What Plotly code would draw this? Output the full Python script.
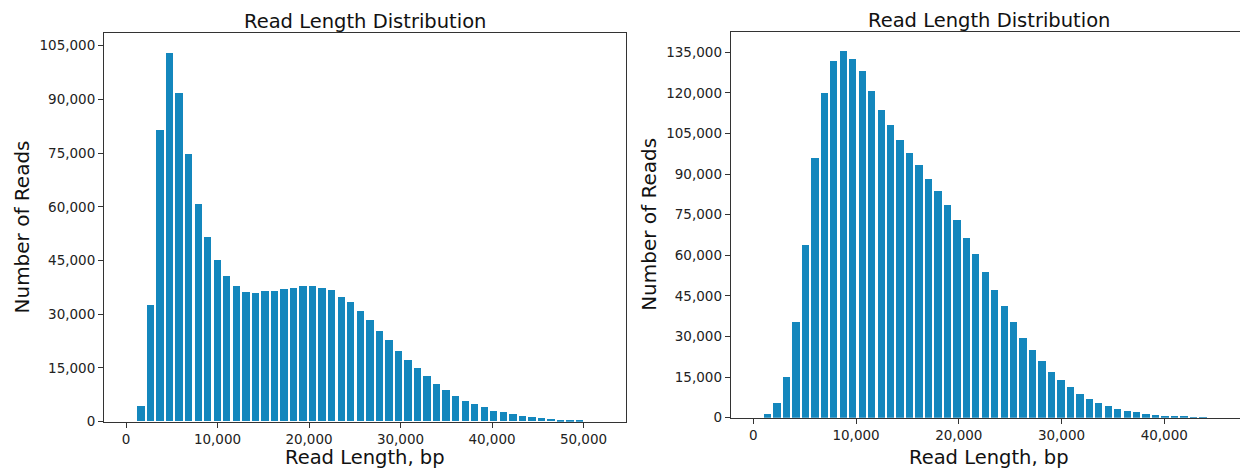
import plotly.graph_objects as go

# ---------------- data ----------------
title_text = "Read Length Distribution"
x_label = "Read Length, bp"
y_label = "Number of Reads"

# left histogram (sample A)
left_first_bin_center = 1640
left_bin_width = 1042
left_counts = [4200, 32600, 81500, 103000, 91700, 74800, 60800, 51400, 45200, 40700,
               37900, 36000, 35800, 36300, 36300, 37100, 37200, 37700, 37900, 37200,
               36600, 34700, 33400, 30700, 28200, 25300, 22800, 19800, 17200, 14900,
               12800, 10500, 8700, 7200, 5800, 4900, 4000, 3000, 2500, 2100,
               1600, 1200, 850, 650, 450, 300, 200]

# right histogram (sample B)
right_first_bin_center = 1363
right_bin_width = 921
right_counts = [1370, 5300, 15100, 35500, 63900, 95800, 119800, 131900, 135600, 132500,
                128100, 120800, 113700, 108000, 102600, 97900, 93200, 88300, 83900, 78700,
                72900, 66400, 60500, 53700, 47200, 41300, 35200, 29600, 25000, 20900,
                17000, 13900, 11200, 8800, 6800, 5300, 4200, 3200, 2500, 2000,
                1500, 1100, 800, 500, 350, 200, 100]

left_x = [left_first_bin_center + i * left_bin_width for i in range(len(left_counts))]
right_x = [right_first_bin_center + i * right_bin_width for i in range(len(right_counts))]

BAR = "#1487BD"
OFF = 8  # browser body margin
W, H = 1248 - OFF, 471 - OFF
FONT = "DejaVu Sans"

fig = go.Figure()
fig.add_trace(go.Bar(x=left_x, y=left_counts, width=0.77 * left_bin_width,
                     marker=dict(color=BAR, line=dict(width=0)),
                     xaxis="x", yaxis="y", showlegend=False))
fig.add_trace(go.Bar(x=right_x, y=right_counts, width=0.77 * right_bin_width,
                     marker=dict(color=BAR, line=dict(width=0)),
                     xaxis="x2", yaxis="y2", showlegend=False))

def px_x(p):
    return (p - OFF) / W

def px_y(p):
    return (H - (p - OFF)) / H

axis_common = dict(showgrid=False, zeroline=False, showline=True, mirror=True,
                   linecolor="#333", linewidth=1, ticks="outside", ticklen=5,
                   tickcolor="#333", tickwidth=1, tickformat=",d", automargin=False,
                   tickfont=dict(family=FONT, size=13.5, color="#222"))

L = (104, 626, 33.3, 421.7)
R = (730.7, 1247.5, 32, 417.7)

fig.update_layout(
    template="none",
    width=W, height=H,
    margin=dict(l=0, r=0, t=0, b=0, pad=0, autoexpand=False),
    paper_bgcolor="white", plot_bgcolor="white",
    bargap=0,
    xaxis=dict(domain=[px_x(L[0]), px_x(L[1])], range=[-2404, 54645],
               tickvals=[0, 10000, 20000, 30000, 40000, 50000], anchor="y", **axis_common),
    yaxis=dict(domain=[px_y(L[3]), px_y(L[2])], range=[0, 108460],
               tickvals=list(range(0, 105001, 15000)), anchor="x", **axis_common),
    xaxis2=dict(domain=[px_x(R[0]), min(1.0, px_x(R[1]))], range=[-2200, 48100],
                tickvals=[0, 10000, 20000, 30000, 40000], anchor="y2", **axis_common),
    yaxis2=dict(domain=[px_y(R[3]), px_y(R[2])], range=[0, 142500],
                tickvals=list(range(0, 135001, 15000)), anchor="x2", **axis_common),
)

def ann(text, x, y, size, angle=0):
    fig.add_annotation(text=text, x=px_x(x), y=px_y(y), xref="paper", yref="paper",
                       showarrow=False, xanchor="center", yanchor="middle",
                       textangle=angle, font=dict(family=FONT, size=size, color="#111"))

ann(title_text, (L[0] + L[1]) / 2, 21, 19.5)
ann(title_text, (R[0] + R[1]) / 2, 20, 19.5)
ann(x_label, (L[0] + L[1]) / 2, 457, 19.5)
ann(x_label, (R[0] + R[1]) / 2, 457, 19.5)
ann(y_label, 22, (L[2] + L[3]) / 2, 20, -90)
ann(y_label, 649, (R[2] + R[3]) / 2, 20, -90)

fig.write_html("out.html")
